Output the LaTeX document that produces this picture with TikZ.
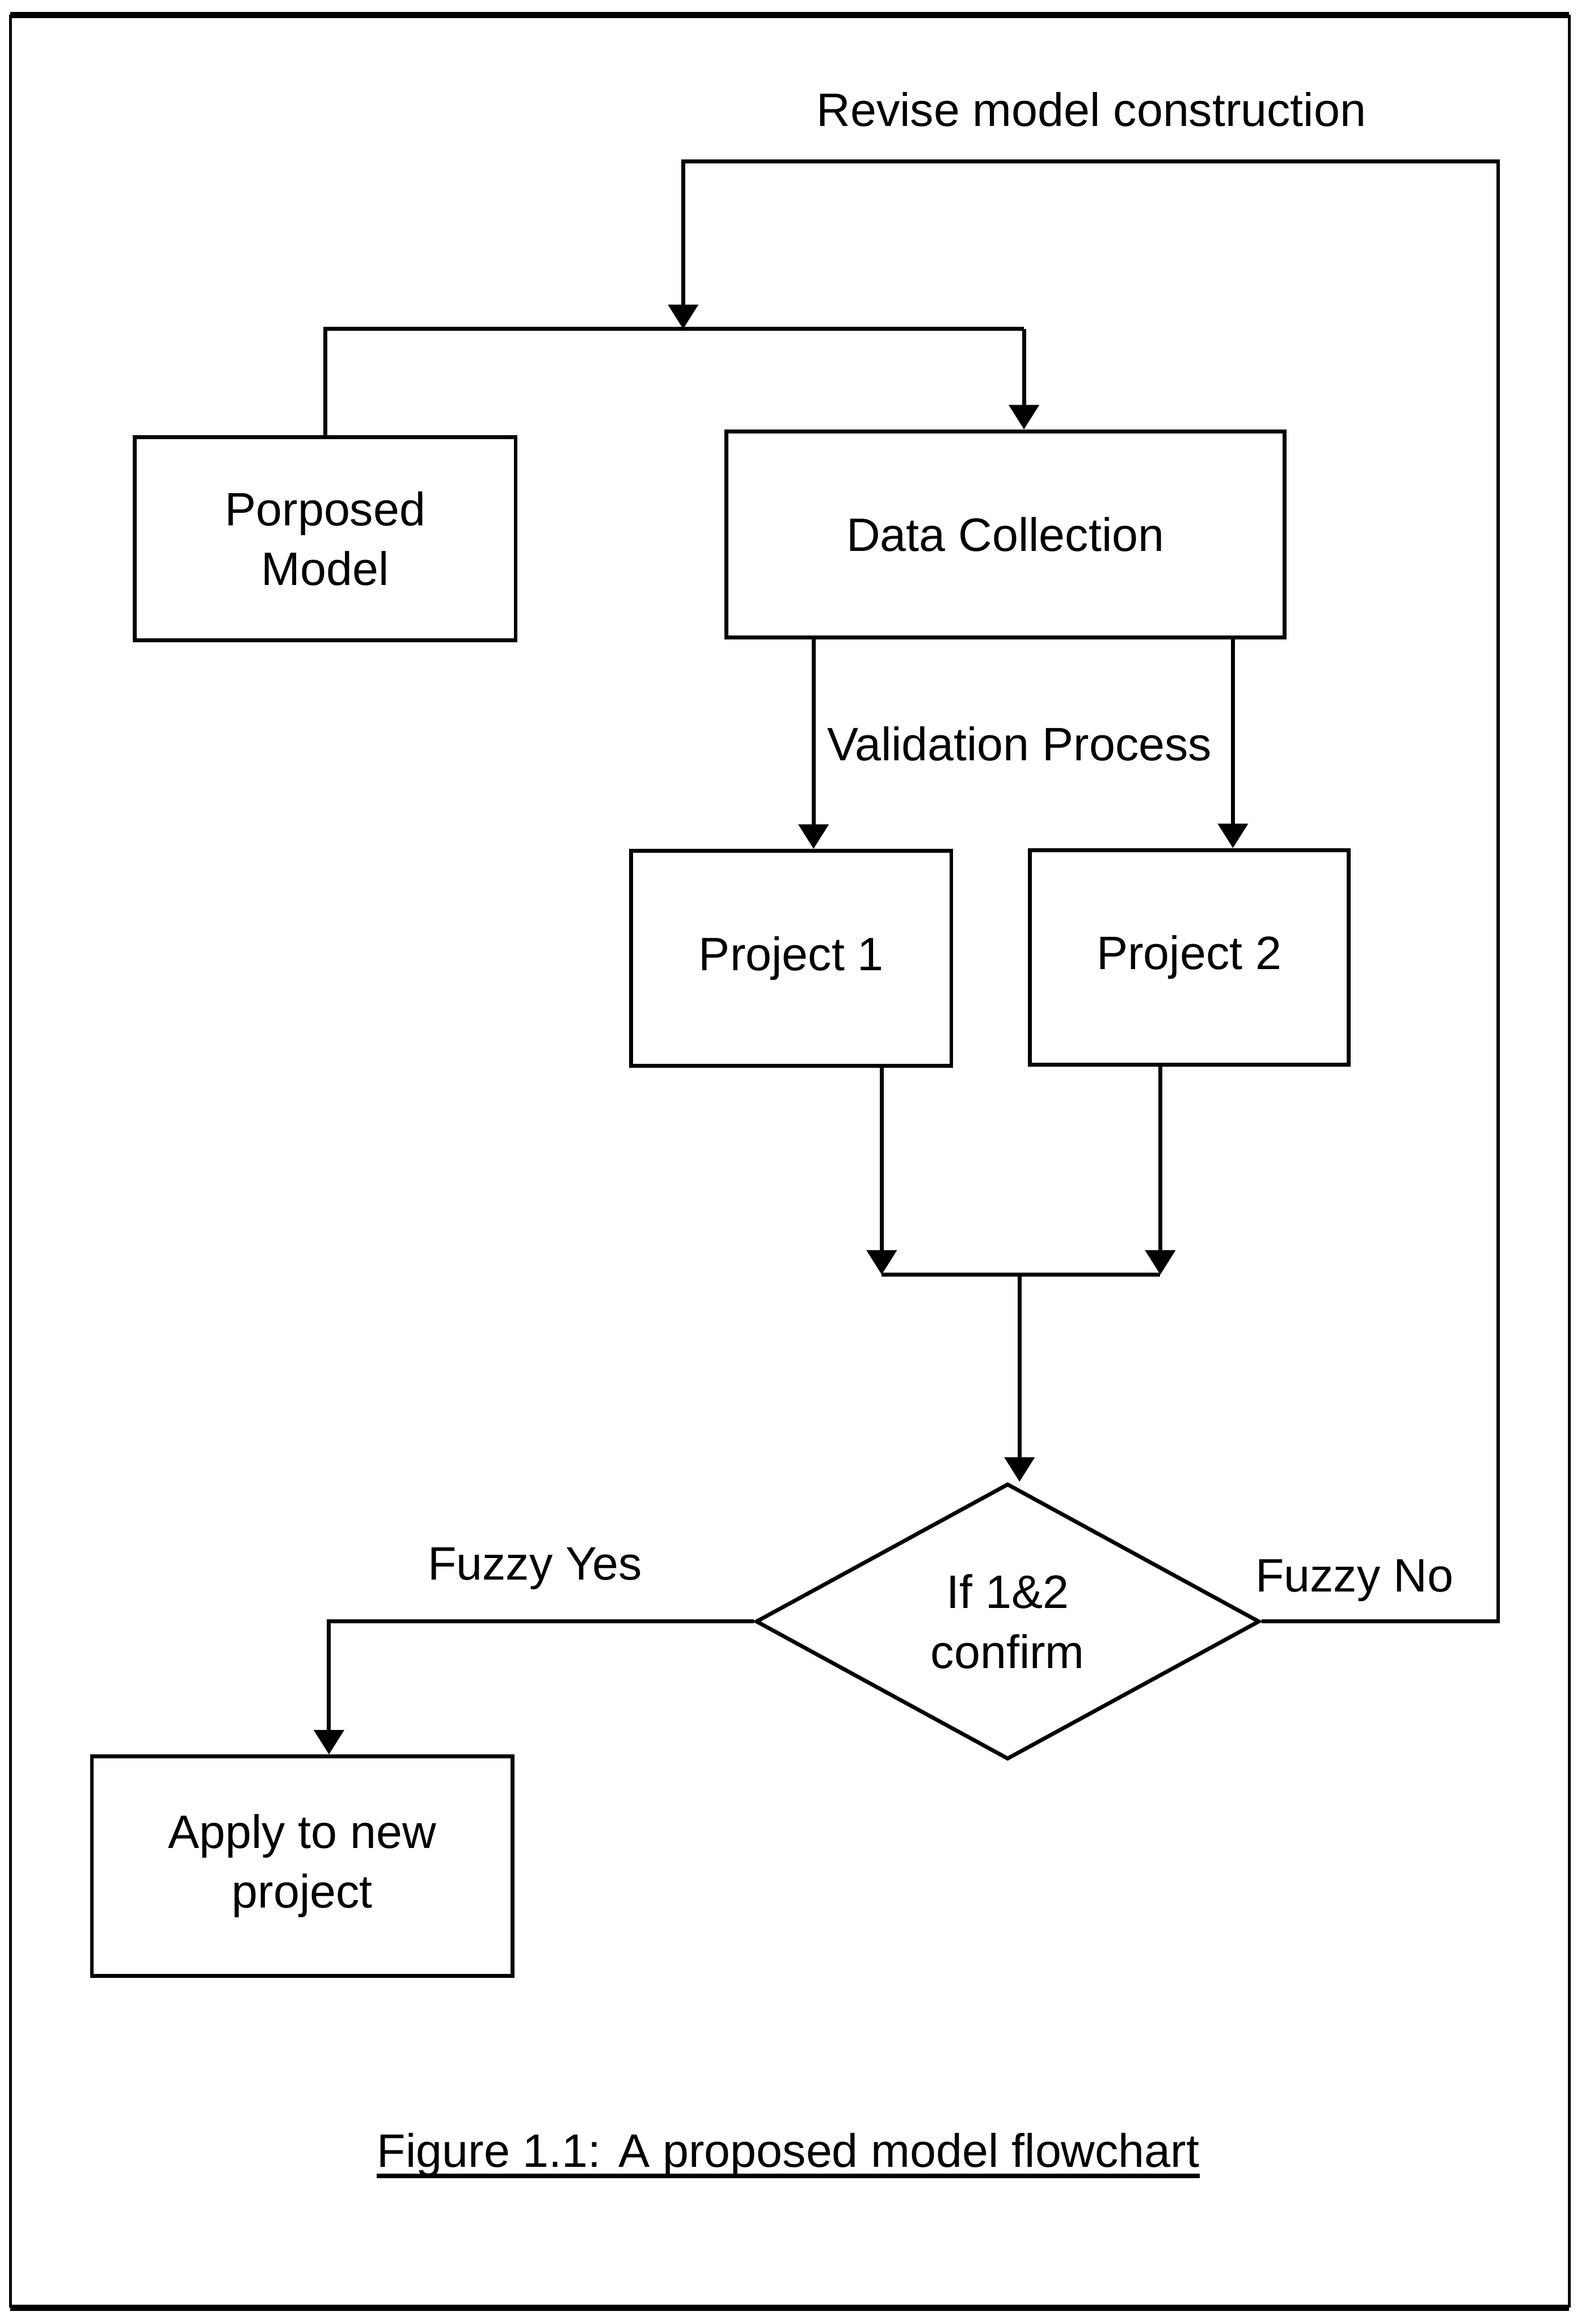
\documentclass[tikz,border=0pt]{standalone}
\usepackage{fontspec}
\setmainfont{Liberation Sans}
\usetikzlibrary{arrows.meta, shapes.geometric}

\tikzset{
  box/.style={draw, line width=1.5pt, align=center, inner sep=0pt},
  line/.style={line width=1.5pt},
  arr/.style={line, -{Triangle[width=0.4cm, length=0.33cm]}},
  lbl/.style={inner sep=0pt, anchor=base}
}

\begin{document}
\begin{tikzpicture}[x=0.02cm, y=-0.02cm, font=\fontsize{18}{23}\selectfont]
        \useasboundingbox (0, 0) rectangle (1064, 1568);
        \draw[line width = 1.2pt] (7, 10) -- (7, 1557);
        \draw[line width = 1.2pt] (1059, 10) -- (1059, 1557);
        \draw[line width = 2.4pt] (7, 10) -- (1059, 10);
        \draw[line width = 2.4pt] (7, 1557) -- (1059, 1557);

        % boxes
        \node[box, minimum width=5.14cm, minimum height=2.74cm] (model) at (219.5, 363.5) {Porposed\\Model};
        \node[box, minimum width=7.54cm, minimum height=2.78cm] (collect) at (678.5, 360.5) {Data Collection};
        \node[box, minimum width=4.32cm, minimum height=2.9cm] (proj1) at (534, 646.5) {Project 1};
        \node[box, minimum width=4.3cm, minimum height=2.9cm] (proj2) at (802.5, 646) {Project 2};
        \node[box, diamond, aspect=1.8, minimum width=6.8cm, minimum height=3.72cm] (dec) at (680, 1094) {If 1\&2\\confirm};
        \node[box, minimum width=5.68cm, minimum height=2.96cm] (apply) at (204, 1259) {Apply to new\\project};

        % bends
        \coordinate (loop) at (1011, 109);
        \coordinate (split) at (461, 222);
        \coordinate (drop) at (691, 222);
        \coordinate (vl) at (549, 0);
        \coordinate (vr) at (832, 0);
        \coordinate (jl) at (595, 860);
        \coordinate (jr) at (783, 860);
        \coordinate (join) at (688, 860);
        \coordinate (yes) at (222, 0);

        \draw[line] (model.north) |- (drop);
        \draw[arr] (drop) -- (drop |- collect.north);
        \draw[arr] (dec.east) -| (loop) -| (split);
        \draw[arr] (collect.south -| vl) -- (proj1.north -| vl);
        \draw[arr] (collect.south -| vr) -- (proj2.north -| vr);
        \draw[arr] (proj1.south -| jl) -- (jl);
        \draw[arr] (proj2.south -| jr) -- (jr);
        \draw[line] (jl) -- (jr);
        \draw[arr] (join) -- (join |- dec.north);
        \draw[arr] (dec.west) -| (apply.north -| yes);

        % labels
        \node[lbl] (revise) at (736.5, 85) {Revise model construction};
        \node[lbl] (valid) at (688, 513) {Validation Process};
        \node[lbl] (fyes) at (361, 1066) {Fuzzy Yes};
        \node[lbl] (fno) at (914, 1074) {Fuzzy No};
        \node[lbl] (caption) at (532, 1462) {Figure 1.1: A proposed model flowchart};
        \draw[line width=1.8pt] ([yshift=-3.5pt]caption.base west) -- ([yshift=-3.5pt]caption.base east);
    \end{tikzpicture}
\end{document}
